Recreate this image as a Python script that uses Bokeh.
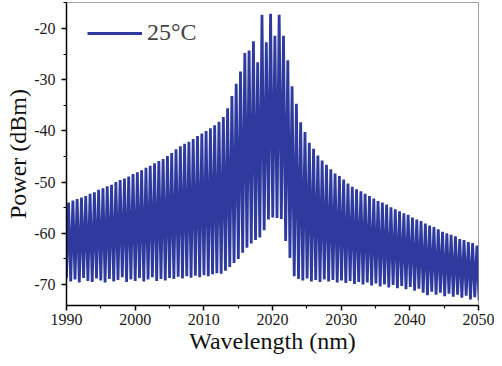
from bokeh.plotting import figure
from bokeh.models import Range1d, Legend, LegendItem, FixedTicker
from bokeh.embed import file_html
from bokeh.resources import INLINE

# ---- data ----
peak_wl = [1990.30, 1990.93, 1991.55, 1992.18, 1992.80, 1993.43, 1994.06, 1994.68, 1995.31, 1995.93,
           1996.56, 1997.19, 1997.81, 1998.44, 1999.06, 1999.69, 2000.32, 2000.94, 2001.57, 2002.19,
           2002.82, 2003.45, 2004.07, 2004.70, 2005.32, 2005.95, 2006.58, 2007.20, 2007.83, 2008.45,
           2009.08, 2009.71, 2010.33, 2010.96, 2011.58, 2012.21, 2012.84, 2013.46, 2014.09, 2014.71,
           2015.34, 2015.97, 2016.59, 2017.22, 2017.84, 2018.47, 2019.10, 2019.72, 2020.35, 2020.97,
           2021.60, 2022.23, 2022.85, 2023.48, 2024.10, 2024.73, 2025.36, 2025.98, 2026.61, 2027.23,
           2027.86, 2028.49, 2029.11, 2029.74, 2030.36, 2030.99, 2031.62, 2032.24, 2032.87, 2033.49,
           2034.12, 2034.75, 2035.37, 2036.00, 2036.62, 2037.25, 2037.88, 2038.50, 2039.13, 2039.75,
           2040.38, 2041.01, 2041.63, 2042.26, 2042.88, 2043.51, 2044.14, 2044.76, 2045.39, 2046.01,
           2046.64, 2047.27, 2047.89, 2048.52, 2049.14, 2049.77]

peak_dbm = [-54.0, -53.6, -53.3, -53.0, -52.7, -52.3, -52.0, -51.5, -51.2, -50.8,
            -50.5, -50.0, -49.6, -49.3, -48.9, -48.4, -48.1, -47.7, -47.2, -46.8,
            -46.3, -45.9, -45.5, -44.9, -44.3, -43.6, -43.0, -42.5, -42.1, -41.6,
            -41.0, -40.5, -40.0, -39.5, -38.9, -38.2, -37.3, -35.6, -33.2, -30.8,
            -28.4, -24.8, -24.3, -22.5, -26.6, -17.3, -22.7, -17.1, -21.4, -17.3,
            -21.4, -26.2, -31.3, -34.7, -38.3, -40.2, -42.3, -43.5, -44.8, -45.8,
            -46.6, -47.5, -48.3, -48.8, -49.5, -50.3, -50.9, -51.4, -51.8, -52.3,
            -52.7, -53.2, -53.7, -54.0, -54.4, -54.9, -55.3, -55.7, -56.1, -56.4,
            -56.9, -57.3, -57.6, -58.1, -58.5, -58.8, -59.2, -59.7, -60.0, -60.3,
            -60.6, -61.1, -61.3, -61.7, -61.9, -62.4]

trough_dbm = [-68.8, -69.4, -69.0, -69.6, -68.7, -69.3, -69.5, -68.8, -69.2, -69.6,
              -68.9, -69.4, -69.1, -68.6, -69.5, -69.0, -69.3, -68.7, -69.4, -69.0,
              -68.6, -69.3, -68.9, -69.2, -68.7, -68.9, -68.5, -68.8, -68.4, -68.7,
              -68.3, -68.6, -68.2, -68.4, -68.0, -67.8, -67.9, -67.3, -66.6, -65.8,
              -65.0, -63.8, -62.8, -62.0, -61.3, -60.8, -59.4, -57.3, -56.9, -57.0,
              -57.2, -61.5, -64.8, -68.4, -68.9, -69.2, -68.8, -69.4, -69.1, -69.5,
              -69.0, -69.4, -69.1, -69.6, -69.2, -69.7, -69.3, -69.9, -69.5, -70.0,
              -69.6, -70.2, -69.8, -70.4, -70.0, -70.6, -70.1, -70.7, -70.3, -70.9,
              -70.5, -71.2, -70.8, -71.6, -72.1, -71.4, -72.0, -71.6, -72.3, -71.8,
              -72.4, -72.0, -72.6, -72.2, -72.9, -72.5, -73.1]

x_ticks = [1990, 2000, 2010, 2020, 2030, 2040, 2050]
y_ticks = [-70, -60, -50, -40, -30, -20]
y_tick_labels = ["-70", "-60", "-50", "-40", "-30", "-20"]
series_label = "25\u00b0C"

# ---- build the trace: trough, peak, trough, peak ... ----
half_first = (peak_wl[1] - peak_wl[0]) / 2
half_last = (peak_wl[-1] - peak_wl[-2]) / 2
trough_wl = ([peak_wl[0] - half_first]
             + [(a + b) / 2 for a, b in zip(peak_wl[:-1], peak_wl[1:])]
             + [peak_wl[-1] + half_last])
xs, ys = [], []
for k in range(len(peak_wl)):
    xs += [trough_wl[k], peak_wl[k]]
    ys += [trough_dbm[k], peak_dbm[k]]
xs.append(trough_wl[-1])
ys.append(trough_dbm[-1])

BLUE = "#2E3A9E"
FONT = "Liberation Serif"

p = figure(width=494, height=358, output_backend="svg", toolbar_location=None,
           x_range=Range1d(1990, 2050), y_range=Range1d(-74.1, -14.92),
           min_border_left=66, min_border_right=16, min_border_top=2, min_border_bottom=53)
p.grid.visible = False
p.outline_line_color = "#a0a0a0"
p.outline_line_width = 1
p.background_fill_color = "white"
p.border_fill_color = "white"

r = p.line(xs, ys, line_color=BLUE, line_width=2.8, line_join="miter")

p.xaxis.ticker = FixedTicker(ticks=x_ticks,
                             minor_ticks=[(a + b) / 2 for a, b in zip(x_ticks[:-1], x_ticks[1:])])
p.yaxis.ticker = FixedTicker(ticks=y_ticks,
                             minor_ticks=[t - 5 for t in y_ticks] + [y_ticks[-1] + 5])
p.yaxis.major_label_overrides = {t: s for t, s in zip(y_ticks, y_tick_labels)}

for ax in (p.xaxis[0], p.yaxis[0]):
    ax.axis_line_color = "black"
    ax.axis_line_width = 1.5
    ax.major_tick_line_color = "black"
    ax.major_tick_line_width = 1.5
    ax.major_tick_in = 0
    ax.major_tick_out = 5
    ax.minor_tick_line_color = "black"
    ax.minor_tick_line_width = 1.2
    ax.minor_tick_in = 0
    ax.minor_tick_out = 3
    ax.major_label_text_font = FONT
    ax.major_label_text_font_size = "16px"
    ax.major_label_text_color = "#1a1a1a"
    ax.axis_label_text_font = FONT
    ax.axis_label_text_font_size = "24px"
    ax.axis_label_text_font_style = "normal"
    ax.axis_label_text_color = "#111111"

p.xaxis.axis_label = "Wavelength (nm)"
p.yaxis.axis_label = "Power (dBm)"
p.xaxis.major_label_standoff = 3
p.xaxis.axis_label_standoff = 0
p.yaxis.major_label_standoff = 6
p.yaxis.axis_label_standoff = 0

legend = Legend(items=[LegendItem(label=series_label, renderers=[r])],
                location=(21, 259), border_line_alpha=0, background_fill_alpha=0,
                glyph_width=55, glyph_height=16, label_height=16,
                label_text_font=FONT, label_text_font_size="24px",
                label_standoff=5, margin=0, padding=0, spacing=0)
p.add_layout(legend)

open("out.html", "w").write(file_html(p, INLINE))
